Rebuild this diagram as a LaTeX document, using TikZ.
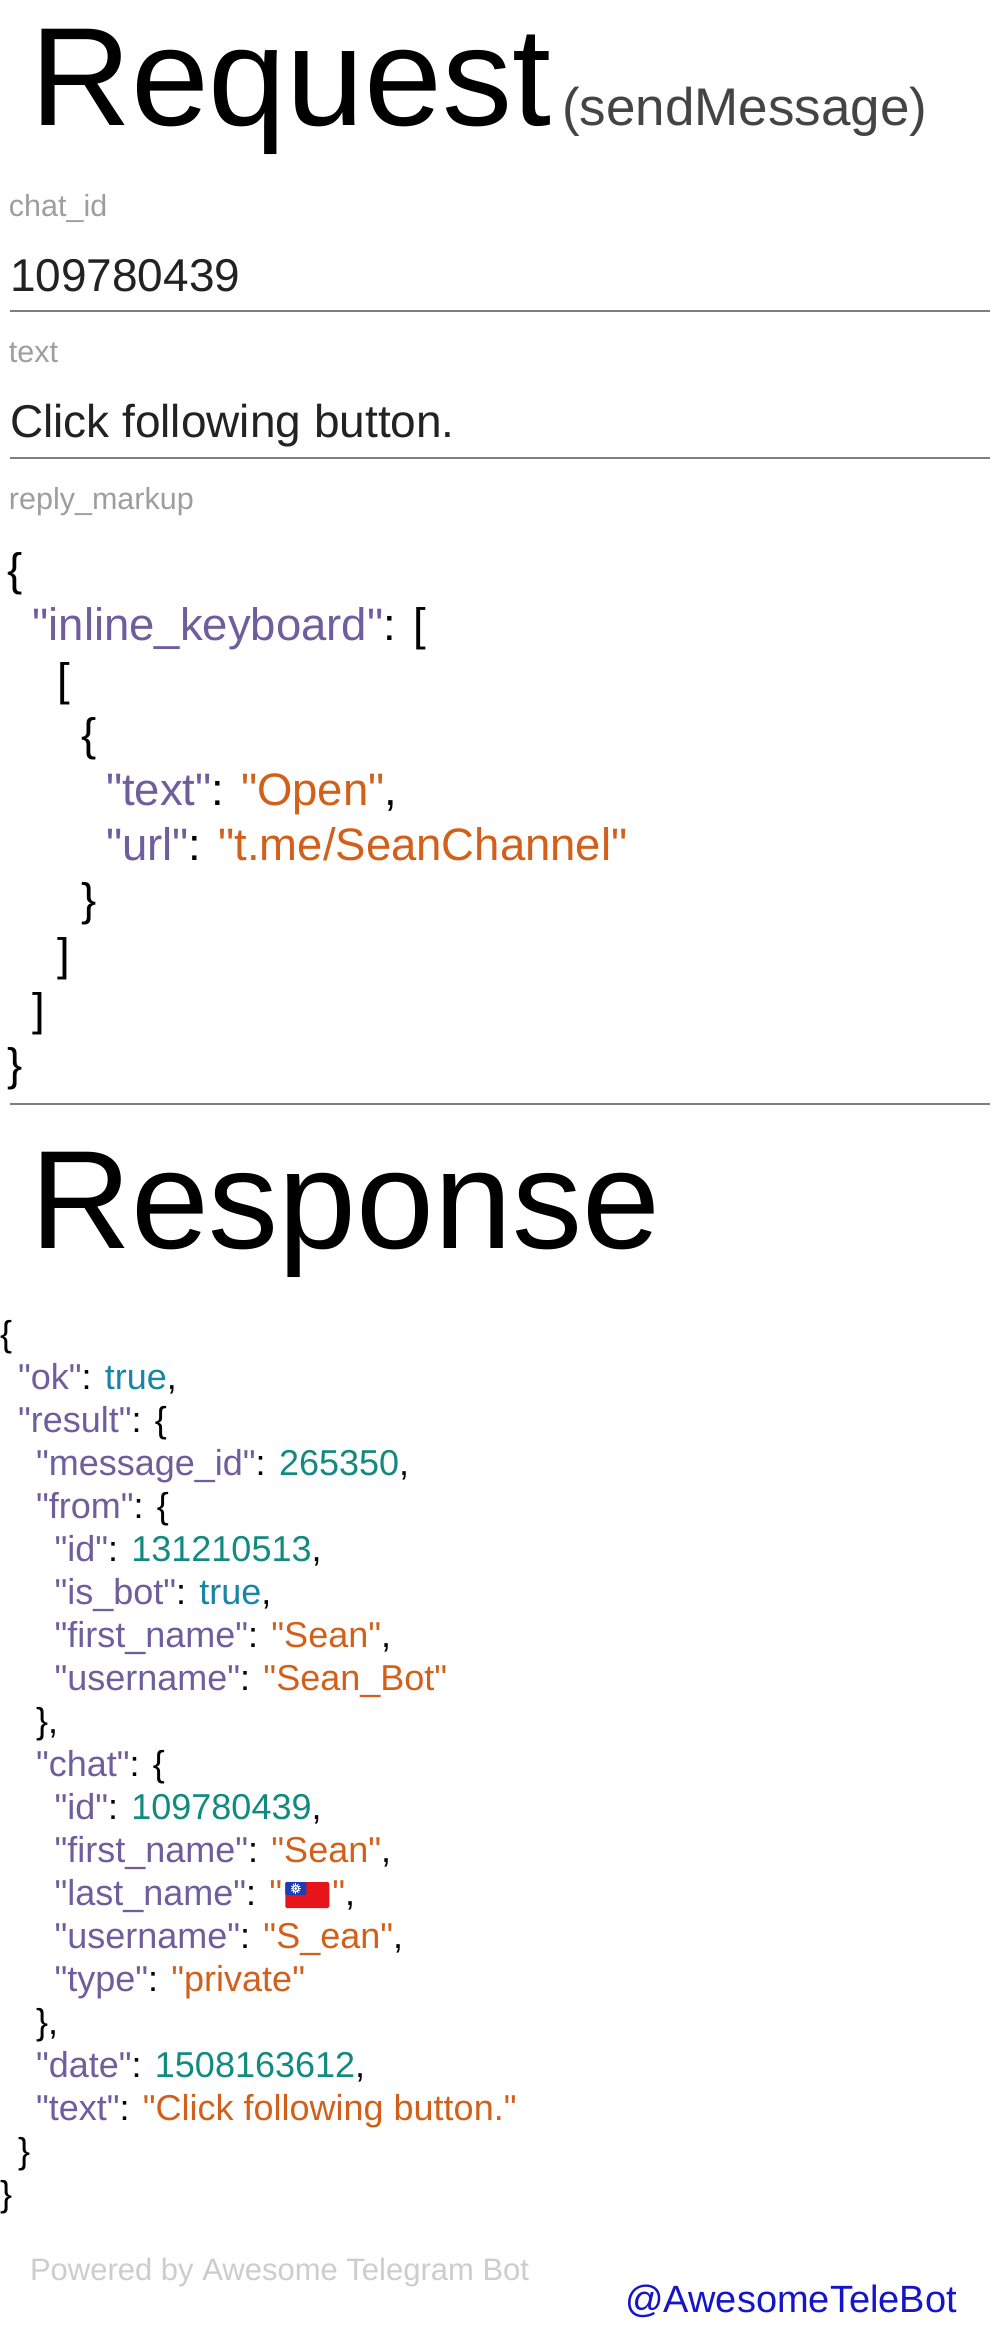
\documentclass[tikz,border=0pt]{standalone}
\usepackage{fontspec}
\setmainfont{Liberation Sans}[Ligatures=TeXOff]
\definecolor{jkey}{HTML}{6E5E9E}
\definecolor{jstr}{HTML}{D2601A}
\definecolor{jnum}{HTML}{128A80}
\definecolor{jbool}{HTML}{1786A6}
\definecolor{lblgray}{HTML}{9E9E9E}
\definecolor{rulegray}{HTML}{7F7F7F}
\definecolor{valdark}{HTML}{222222}
\definecolor{subgray}{HTML}{444444}
\definecolor{footgray}{HTML}{CDCDCD}
\definecolor{tagblue}{HTML}{1414C8}
\definecolor{flagred}{HTML}{E8141C}
\definecolor{flagblue}{HTML}{1E3CB4}
\newcommand{\jk}[1]{\textcolor{jkey}{"#1"}}
\newcommand{\js}[1]{\textcolor{jstr}{"#1"}}
\newcommand{\jn}[1]{\textcolor{jnum}{#1}}
\newcommand{\jb}[1]{\textcolor{jbool}{#1}}
\begin{document}
\begin{tikzpicture}[x=1pt,y=-1pt,
  txt/.style={anchor=base west,inner sep=0pt,outer sep=0pt},
  bigtitle/.style={txt,font=\fontsize{140}{150}\selectfont},
  subtitle/.style={txt,text=subgray,font=\fontsize{53}{60}\selectfont},
  fieldlbl/.style={txt,text=lblgray,font=\fontsize{30.5}{34}\selectfont},
  fieldval/.style={txt,text=valdark,font=\fontsize{46}{55}\selectfont},
  reqjson/.style={txt,font=\fontsize{45.5}{55}\selectfont},
  resjson/.style={txt,font=\fontsize{36}{43}\selectfont},
  seprule/.style={draw=rulegray,line width=2.5pt},
  footnote/.style={txt,text=footgray,font=\fontsize{31}{36}\selectfont},
  tagline/.style={anchor=base east,inner sep=0pt,text=tagblue,font=\fontsize{38}{43}\selectfont}
]
\useasboundingbox (0,0) rectangle (996,2343);
\fill[white] (0,0) rectangle (996,2343);

% ---------- Request ----------
\node[bigtitle] (reqtitle) at (30,125) {Request};
\node[subtitle] (reqsub) at (562,125) {(sendMessage)};

\node[fieldlbl] (lblchat) at (9,216) {chat\_id};
\node[fieldval] (valchat) at (10,291) {109780439};
\draw[seprule] (10,311) -- (990,311);

\node[fieldlbl] (lbltext) at (9,362) {text};
\node[fieldval] (valtext) at (10,437) {Click following button.};
\draw[seprule] (10,458) -- (990,458);

\node[fieldlbl] (lblmarkup) at (9,509) {reply\_markup};

\node[reqjson] (q0) at (8,585) {\{};
\node[reqjson] (q1) at (32.5,640) {\jk{inline\_keyboard}: [};
\node[reqjson] (q2) at (57,695) {[};
\node[reqjson] (q3) at (81.5,750) {\{};
\node[reqjson] (q4) at (106,805) {\jk{text}: \js{Open},};
\node[reqjson] (q5) at (106,860) {\jk{url}: \js{t.me/SeanChannel}};
\node[reqjson] (q6) at (81.5,915) {\}};
\node[reqjson] (q7) at (57,970) {]};
\node[reqjson] (q8) at (32.5,1025) {]};
\node[reqjson] (q9) at (8,1080) {\}};
\draw[seprule] (10,1104) -- (990,1104);

% ---------- Response ----------
\node[bigtitle] (restitle) at (30,1248) {Response};

\node[resjson] (r0)  at (0,1346) {\{};
\node[resjson] (r1)  at (18,1389) {\jk{ok}: \jb{true},};
\node[resjson] (r2)  at (18,1432) {\jk{result}: \{};
\node[resjson] (r3)  at (36,1475) {\jk{message\_id}: \jn{265350},};
\node[resjson] (r4)  at (36,1518) {\jk{from}: \{};
\node[resjson] (r5)  at (54.5,1561) {\jk{id}: \jn{131210513},};
\node[resjson] (r6)  at (54.5,1604) {\jk{is\_bot}: \jb{true},};
\node[resjson] (r7)  at (54.5,1647) {\jk{first\_name}: \js{Sean},};
\node[resjson] (r8)  at (54.5,1690) {\jk{username}: \js{Sean\_Bot}};
\node[resjson] (r9)  at (36,1733) {\},};
\node[resjson] (r10) at (36,1776) {\jk{chat}: \{};
\node[resjson] (r11) at (54.5,1819) {\jk{id}: \jn{109780439},};
\node[resjson] (r12) at (54.5,1862) {\jk{first\_name}: \js{Sean},};
\node[resjson] (r13) at (54.5,1905) {\jk{last\_name}: \textcolor{jstr}{"}};
\coordinate[xshift=3pt] (flag) at (r13.base east);
\begin{scope}[shift={(flag)}]
  \fill[flagred,rounded corners=1.5pt] (0,-23) rectangle (44,3);
  \fill[flagblue,rounded corners=1pt] (0,-23) rectangle (21,-10);
  \fill[white] (10.5,-16.5) circle (3.6pt);
  \foreach \a in {0,30,...,330} \draw[white,line width=0.8pt] (10.5,-16.5) -- ++(\a:5.2pt);
  \fill[flagblue] (10.5,-16.5) circle (2.2pt);
  \fill[white] (10.5,-16.5) circle (1.7pt);
\end{scope}
\node[resjson,xshift=47pt] (r13b) at (flag) {\textcolor{jstr}{"},};
\node[resjson] (r14) at (54.5,1948) {\jk{username}: \js{S\_ean},};
\node[resjson] (r15) at (54.5,1991) {\jk{type}: \js{private}};
\node[resjson] (r16) at (36,2034) {\},};
\node[resjson] (r17) at (36,2077) {\jk{date}: \jn{1508163612},};
\node[resjson] (r18) at (36,2120) {\jk{text}: \js{Click following button.}};
\node[resjson] (r19) at (18,2163) {\}};
\node[resjson] (r20) at (0,2206) {\}};

% ---------- Footer ----------
\node[footnote] (powered) at (30,2280) {Powered by Awesome Telegram Bot};
\node[tagline] (handle) at (957,2312) {@AwesomeTeleBot};
\end{tikzpicture}
\end{document}
